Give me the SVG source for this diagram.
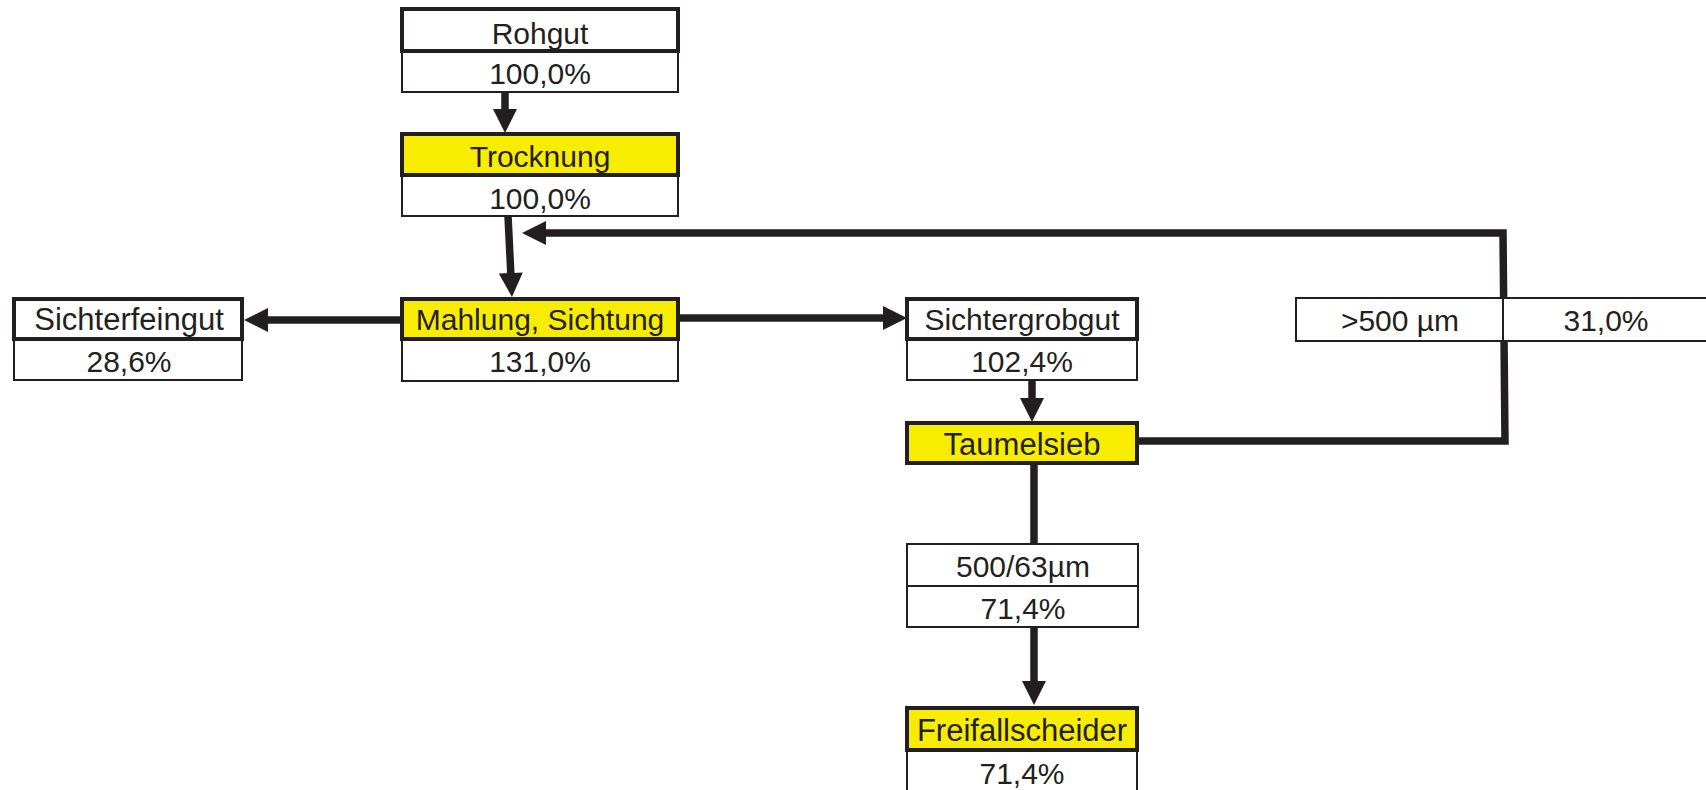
<svg xmlns="http://www.w3.org/2000/svg" width="1706" height="790" viewBox="0 0 1706 790">
  <defs>
    <style>
      .lbl { fill: #ffffff; stroke: #231f20; stroke-width: 4; }
      .proc { fill: #f8ec00; stroke: #231f20; stroke-width: 4; }
      .val { fill: #ffffff; stroke: #231f20; stroke-width: 2; }
      .txt { font-family: "Liberation Sans", Arial, sans-serif; font-size: 30px; fill: #231f20; text-anchor: middle; }
      .wide { font-size: 31px; }
      .flow { fill: none; stroke: #231f20; stroke-width: 7.5; stroke-linejoin: miter; }
    </style>
    <marker id="head" markerUnits="userSpaceOnUse" markerWidth="24" markerHeight="24" refX="4" refY="12" orient="auto" overflow="visible">
      <path d="M0,0 L24,12 L0,24 Z" fill="#231f20"/>
    </marker>
  </defs>

  <rect width="1706" height="790" fill="#ffffff"/>

  <!-- flow lines -->
  <g id="connectors">
    <path class="flow" d="M505,92 V113" marker-end="url(#head)"/>
    <path class="flow" d="M508,216 L511,277" marker-end="url(#head)"/>
    <path class="flow" d="M1138,441 H1505 L1503,233 H542" marker-end="url(#head)"/>
    <path class="flow" d="M400,320 H264" marker-end="url(#head)"/>
    <path class="flow" d="M680,318 H887" marker-end="url(#head)"/>
    <path class="flow" d="M1032,381 V402" marker-end="url(#head)"/>
    <path class="flow" d="M1034,463 V545"/>
    <path class="flow" d="M1034,627 V685" marker-end="url(#head)"/>
  </g>

  <g id="rohgut">
    <rect class="val" x="402" y="51" width="276" height="41"/>
    <rect class="lbl" x="402" y="9" width="276" height="42"/>
    <text class="txt" x="540" y="44">Rohgut</text>
    <text class="txt" x="540" y="84">100,0%</text>
  </g>

  <g id="trocknung">
    <rect class="val" x="402" y="175" width="276" height="41"/>
    <rect class="proc" x="402" y="134" width="276" height="41"/>
    <text class="txt" x="540" y="167">Trocknung</text>
    <text class="txt" x="540" y="209">100,0%</text>
  </g>

  <g id="mahlung-sichtung">
    <rect class="val" x="402" y="339" width="276" height="42"/>
    <rect class="proc" x="402" y="299" width="276" height="40"/>
    <text class="txt" x="540" y="330">Mahlung, Sichtung</text>
    <text class="txt" x="540" y="372">131,0%</text>
  </g>

  <g id="sichterfeingut">
    <rect class="val" x="14" y="339" width="228" height="41"/>
    <rect class="lbl" x="14" y="299" width="228" height="40"/>
    <text class="txt wide" x="129" y="330">Sichterfeingut</text>
    <text class="txt" x="129" y="372">28,6%</text>
  </g>

  <g id="sichtergrobgut">
    <rect class="val" x="907" y="339" width="230" height="41"/>
    <rect class="lbl" x="907" y="299" width="230" height="40"/>
    <text class="txt" x="1022" y="330">Sichtergrobgut</text>
    <text class="txt" x="1022" y="372">102,4%</text>
  </g>

  <g id="grobfraktion">
    <rect class="val" x="1296" y="298" width="430" height="43"/>
    <line x1="1503" y1="298" x2="1503" y2="341" stroke="#231f20" stroke-width="2"/>
    <text class="txt" x="1400" y="331">&gt;500 µm</text>
    <text class="txt" x="1606" y="331">31,0%</text>
  </g>

  <g id="taumelsieb">
    <rect class="proc" x="907" y="423" width="230" height="40"/>
    <text class="txt wide" x="1022" y="455">Taumelsieb</text>
  </g>

  <g id="fraktion-500-63">
    <rect class="val" x="907" y="544" width="231" height="42"/>
    <rect class="val" x="907" y="586" width="231" height="41"/>
    <text class="txt" x="1023" y="577">500/63µm</text>
    <text class="txt" x="1023" y="619">71,4%</text>
  </g>

  <g id="freifallscheider">
    <rect class="val" x="907" y="750" width="230" height="50"/>
    <rect class="proc" x="907" y="708" width="230" height="42"/>
    <text class="txt wide" x="1022" y="741">Freifallscheider</text>
    <text class="txt" x="1022" y="784">71,4%</text>
  </g>
</svg>
